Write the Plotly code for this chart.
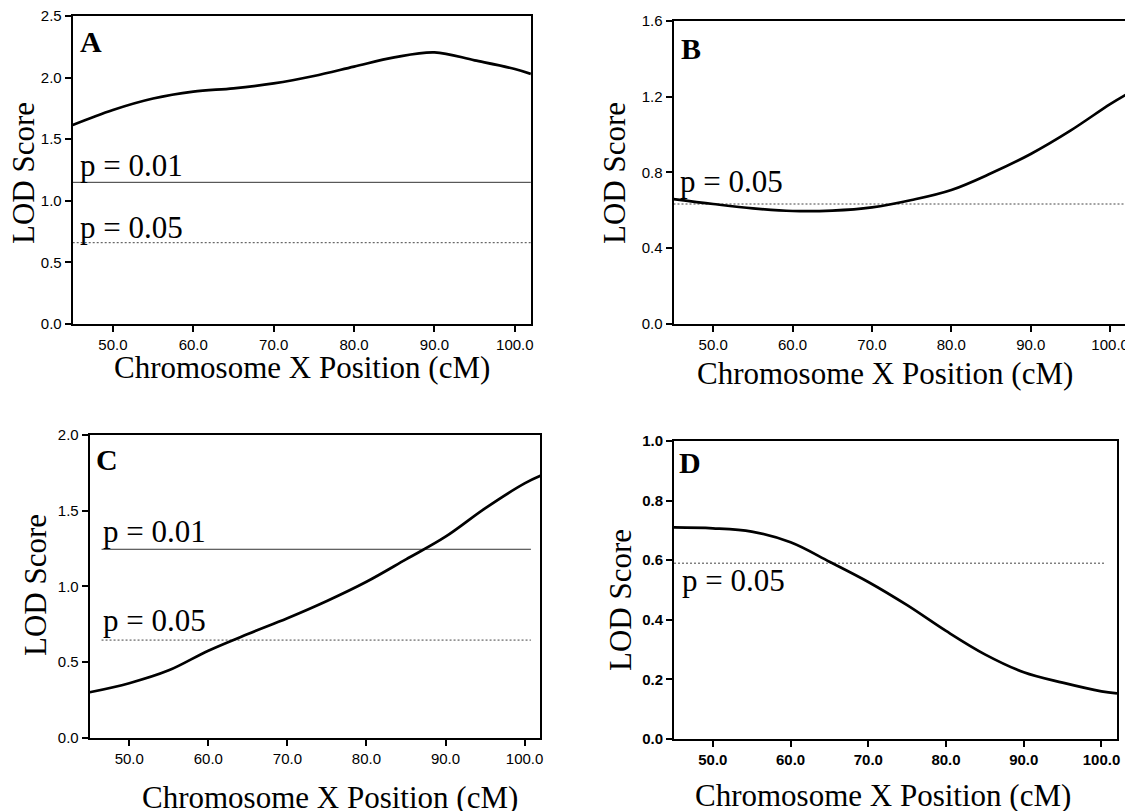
import plotly.graph_objects as go

# ---------------- data ----------------
positions = [45, 50, 55, 60, 65, 70, 75, 80, 85, 90, 95, 100, 102]
lod_a = [1.615, 1.737, 1.83, 1.886, 1.913, 1.953, 2.013, 2.089, 2.164, 2.205, 2.14, 2.07, 2.03]
lod_b = [0.659, 0.633, 0.61, 0.596, 0.598, 0.615, 0.654, 0.707, 0.795, 0.897, 1.02, 1.16, 1.21]
lod_c = [0.30, 0.36, 0.445, 0.575, 0.685, 0.789, 0.903, 1.03, 1.178, 1.328, 1.515, 1.68, 1.73]
lod_d = [0.71, 0.707, 0.696, 0.66, 0.595, 0.527, 0.449, 0.3625, 0.284, 0.224, 0.189, 0.16, 0.153]

thr_a_01 = 1.15
thr_a_05 = 0.66
thr_b_05 = 0.633
thr_c_01 = 1.245
thr_c_05 = 0.645
thr_d_05 = 0.59

panel_letters = ["A", "B", "C", "D"]
x_title = "Chromosome X Position (cM)"
y_title = "LOD Score"
x_ticks = [50, 60, 70, 80, 90, 100]

# ---------------- layout helpers (screen px -> paper) ----------------
W, H = 1133, 811
OFF = 8  # page body margin
def fx(p):
    return (p - OFF) / W
def fy(p):
    return 1 - (p - OFF) / H

SERIF = "Liberation Serif, Times New Roman, serif"
SANS = "Liberation Sans, Arial, sans-serif"

panels = [
    dict(letter=panel_letters[0], y=lod_a, xd=(72.7, 530.9), yd=(16, 324), yr=(0, 2.5), dt=0.5, bold=False,
         ytitle=(23, 173), xtitle=(302, 368), lab=(79, 31.7)),
    dict(letter=panel_letters[1], y=lod_b, xd=(673.5, 1126), yd=(20.7, 324), yr=(0, 1.6), dt=0.4, bold=False,
         ytitle=(614, 173), xtitle=(885, 374), lab=(680, 39)),
    dict(letter=panel_letters[2], y=lod_c, xd=(89.7, 540.4), yd=(435, 737.7), yr=(0, 2.0), dt=0.5, bold=False,
         ytitle=(35, 585), xtitle=(330, 797), lab=(95, 450)),
    dict(letter=panel_letters[3], y=lod_d, xd=(674, 1117), yd=(441, 739), yr=(0, 1.0), dt=0.2, bold=True,
         ytitle=(620, 600), xtitle=(883, 795), lab=(678, 453)),
]

thresholds = [
    (0, thr_a_01, (45, 102), "solid", "p = 0.01", 45.6, "bottom", -3),
    (0, thr_a_05, (45, 102), "dot", "p = 0.05", 45.6, "bottom", -4),
    (1, thr_b_05, (45, 102), "dot", "p = 0.05", 45.6, "bottom", 3),
    (2, thr_c_01, (46.5, 100.8), "solid", "p = 0.01", 46.4, "bottom", -2),
    (2, thr_c_05, (46.5, 100.8), "dot", "p = 0.05", 46.4, "bottom", 0),
    (3, thr_d_05, (45, 100.4), "dot", "p = 0.05", 45.8, "top", 2),
]

fig = go.Figure()
annotations = []
layout = {}

for i, p in enumerate(panels):
    n = "" if i == 0 else str(i + 1)
    xa, ya = "x" + n, "y" + n
    for (pi, val, ext, dash, lab, lx, anc, ys) in thresholds:
        if pi != i:
            continue
        fig.add_trace(go.Scatter(
            x=list(ext), y=[val, val], mode="lines", xaxis=xa, yaxis=ya,
            line=dict(color="#333333" if dash == "solid" else "#444444",
                      width=1, dash="solid" if dash == "solid" else "2px,2px"),
            showlegend=False, hoverinfo="skip"))
        annotations.append(dict(
            x=lx, y=val, xref=xa, yref=ya, text=lab, showarrow=False,
            xanchor="left", yanchor=anc, yshift=ys,
            font=dict(family=SERIF, size=31, color="black")))
    fig.add_trace(go.Scatter(
        x=positions, y=p["y"], mode="lines", xaxis=xa, yaxis=ya,
        line=dict(color="black", width=2.7, shape="spline", smoothing=1.0),
        showlegend=False))

    tickfont = dict(family=SANS, size=15, color="black")
    if p["bold"]:
        tickfont["weight"] = "bold"
    common = dict(showline=True, linewidth=2, linecolor="black", mirror=True,
                  ticks="outside", ticklen=6, tickwidth=2, tickcolor="black",
                  showgrid=False, zeroline=False, tickfont=tickfont,
                  tickformat=".1f", automargin=False, ticklabeloverflow="allow")
    layout["xaxis" + n] = dict(common, domain=[fx(p["xd"][0]), fx(p["xd"][1])],
                               range=[45, 102], tickvals=x_ticks,
                               anchor=ya, fixedrange=True)
    layout["yaxis" + n] = dict(common, domain=[fy(p["yd"][1]), fy(p["yd"][0])],
                               range=list(p["yr"]), dtick=p["dt"], tick0=0,
                               anchor=xa, fixedrange=True)

    annotations.append(dict(
        x=fx(p["lab"][0] - 1), y=fy(p["lab"][1] - 9), xref="paper", yref="paper",
        text="<b>%s</b>" % p["letter"], showarrow=False, xanchor="left", yanchor="top",
        font=dict(family=SERIF, size=30, color="black")))
    annotations.append(dict(
        x=fx(p["ytitle"][0]), y=fy(p["ytitle"][1]), xref="paper", yref="paper",
        text=y_title, textangle=-90, showarrow=False, xanchor="center", yanchor="middle",
        font=dict(family=SERIF, size=31, color="black")))
    annotations.append(dict(
        x=fx(p["xtitle"][0]), y=fy(p["xtitle"][1]), xref="paper", yref="paper",
        text=x_title, showarrow=False, xanchor="center", yanchor="middle",
        font=dict(family=SERIF, size=31, color="black")))

fig.update_layout(
    template="none",
    width=W, height=H,
    margin=dict(l=0, r=0, t=0, b=0, pad=0, autoexpand=False),
    paper_bgcolor="white", plot_bgcolor="white",
    annotations=annotations,
    **layout,
)

fig.write_html("out.html", config={"displayModeBar": False})
